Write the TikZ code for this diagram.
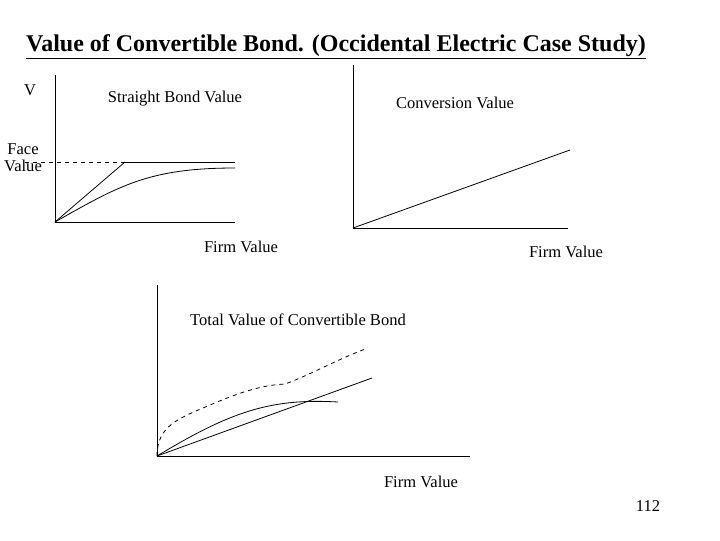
\documentclass[tikz,border=0pt]{standalone}
\usepackage{fontspec}
\setmainfont{Liberation Serif}
\begin{document}
\begin{tikzpicture}[x=0.75pt,y=-0.75pt,
  lbl/.style={font=\fontsize{12.4}{13}\selectfont,inner sep=0pt,align=center},
  ax/.style={line width=0.6pt},
  cv/.style={line width=0.6pt}]
\useasboundingbox (0,0) rectangle (720,540);
\node[inner sep=0pt,font=\fontsize{18}{21}\selectfont\bfseries] (title) at (336,47) {\underline{Value of Convertible Bond. (Occidental Electric Case Study)}};
% plot 1
\draw[ax] (55,75) -- (55,222) -- (235,222);
\node[lbl] (v) at (30,90) {V};
\node[lbl] (sbv) at (175,99) {Straight Bond Value};
\node[lbl] (fv) at (23,158) {Face\\Value};
\draw[cv,dashed] (25,162) -- (125,162);
\draw[cv] (125,162) -- (235,162);
\draw[cv] (55,222) -- (125,162);
\draw[cv] (55,222) .. controls (120,185) and (150,168) .. (235,168);
% plot 2
\draw[ax] (353,65) -- (353,228) -- (568,228);
\node[lbl] (cvl) at (455,103) {Conversion Value};
\draw[cv] (353,228) -- (570,150);
\node[lbl] (fx1) at (241,247) {Firm Value};
\node[lbl] (fx2) at (566,252) {Firm Value};
% plot 3
\draw[ax] (157,285) -- (157,456) -- (470,456);
\node[lbl] (tv) at (298,320) {Total Value of Convertible Bond};
\draw[cv] (157,456) -- (372,378);
\draw[cv] (157,456) .. controls (230,412) and (270,398) .. (338,402);
\draw[cv,dashed] (157,456) .. controls (157,425) and (180,418) .. (210,405)
  .. controls (245,390) and (265,385) .. (285,384)
  .. controls (310,375) and (340,358) .. (368,348);
\node[lbl] (fx3) at (421,482) {Firm Value};
\node[lbl] (pg) at (648,506) {112};
\end{tikzpicture}
\end{document}
